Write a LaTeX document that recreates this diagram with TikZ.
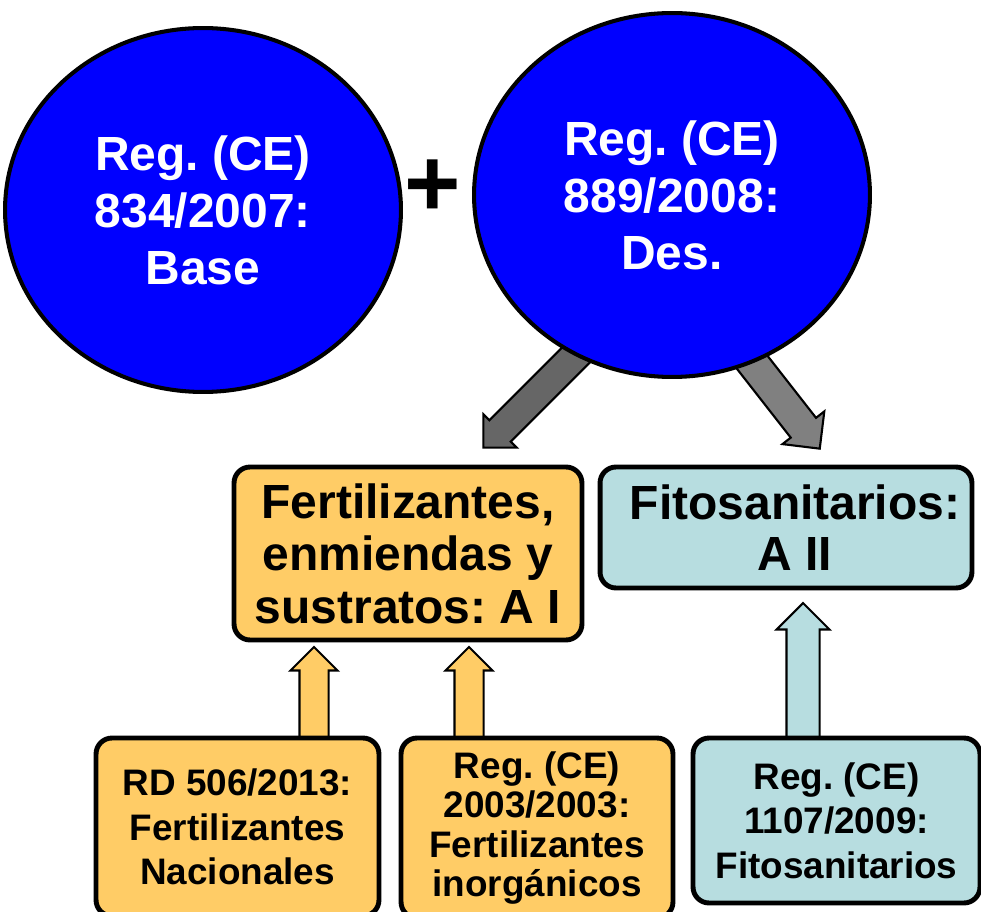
\documentclass[tikz,border=0pt]{standalone}
\usepackage{fontspec}
\setmainfont{Liberation Sans}
\frenchspacing
\usetikzlibrary{positioning}
\usetikzlibrary{shapes.geometric,shapes.arrows}
\usetikzlibrary{calc}
\definecolor{regblue}{HTML}{0000FF}
\definecolor{fertorange}{HTML}{FFCC66}
\definecolor{fitoblue}{HTML}{B7DDE0}
\definecolor{darkarrow}{HTML}{666666}
\definecolor{lightarrow}{HTML}{808080}
\tikzstyle{regcircle}=[ellipse,draw=black,line width=2.3pt,fill=regblue,text=white,align=center,inner sep=0pt,minimum width=7.92cm,minimum height=7.28cm,font=\bfseries\fontsize{27.3}{32.4}\selectfont]
\tikzstyle{topbox}=[rectangle,rounded corners=0.32cm,draw=black,line width=2.8pt,align=center,inner sep=0pt,font=\bfseries\fontsize{27.3}{29.9}\selectfont]
\tikzstyle{lowbox}=[rectangle,rounded corners=0.32cm,draw=black,line width=2.8pt,align=center,inner sep=0pt,font=\bfseries\fontsize{21}{25.3}\selectfont]
\tikzstyle{blockarrow}=[single arrow,draw=black,line width=1.2pt,inner xsep=0pt,outer sep=0pt,single arrow head indent=0pt,single arrow tip angle=90]

\begin{document}
\begin{tikzpicture}[x=0.02cm,y=-0.02cm]
\path[use as bounding box,clip] (0,0) rectangle (981,912);

% ends of the block arrows
    \coordinate (gl1) at (624,307); \coordinate (gl2) at (483,448);
    \coordinate (gr1) at (709,307); \coordinate (gr2) at (820,449);
    \coordinate (u1a) at (314,738); \coordinate (u1b) at (314,647);
    \coordinate (u2a) at (469,738); \coordinate (u2b) at (469,647);
    \coordinate (u3a) at (803,738); \coordinate (u3b) at (803,603);

   \foreach \source/\dest/\col/\sw/\ext in {gl1/gl2/darkarrow/0.28cm/0.17cm, gr1/gr2/lightarrow/0.30cm/0.21cm, u1a/u1b/fertorange/0.27cm/0.18cm, u2a/u2b/fertorange/0.27cm/0.18cm, u3a/u3b/fitoblue/0.31cm/0.20cm}
          \path let \p1=(\source), \p2=(\dest), \n1={atan2(\y2-\y1,\x2-\x1)}, \n2={veclen(\x2-\x1,\y2-\y1)} in
            node[blockarrow,fill=\col,rotate=\n1,minimum height=\n2,inner ysep=\sw,single arrow head extend=\ext,anchor=tail] at (\p1) {};

% the two regulations
    \node[regcircle] (base) at (203,210) {Reg. (CE)\\834/2007:\\Base};
    \node[regcircle] (des) at (672,195) {Reg. (CE)\\889/2008:\\Des.};
    \node[font=\bfseries\fontsize{55}{55}\selectfont,inner sep=0pt] (plus) at (433,188) {+};

% annexes
    \node[topbox,fill=fertorange,minimum width=6.96cm,minimum height=3.46cm] (fert) at (408,553.5) {Fertilizantes,\\enmiendas y\\sustratos: A I};
    \node[topbox,fill=fitoblue,minimum width=7.44cm,minimum height=2.42cm,font=\bfseries\fontsize{27.3}{29}\selectfont] (fito) at (786,527.5) {\hspace*{0.36cm}Fitosanitarios:\\\hspace*{0.36cm}A II};

% specific regulations
    \node[lowbox,fill=fertorange,minimum width=5.66cm,minimum height=3.56cm] (rd) at (237.5,827) {RD 506/2013:\\Fertilizantes\\Nacionales};
    \node[lowbox,fill=fertorange,minimum width=5.44cm,minimum height=3.6cm,font=\bfseries\fontsize{21}{22.4}\selectfont] (inorg) at (537,828) {Reg. (CE)\\2003/2003:\\Fertilizantes\\inorgánicos};
    \node[lowbox,fill=fitoblue,minimum width=5.74cm,minimum height=3.3cm] (fitoreg) at (836.5,820.5) {Reg. (CE)\\1107/2009:\\Fitosanitarios};

\end{tikzpicture}
\end{document}
